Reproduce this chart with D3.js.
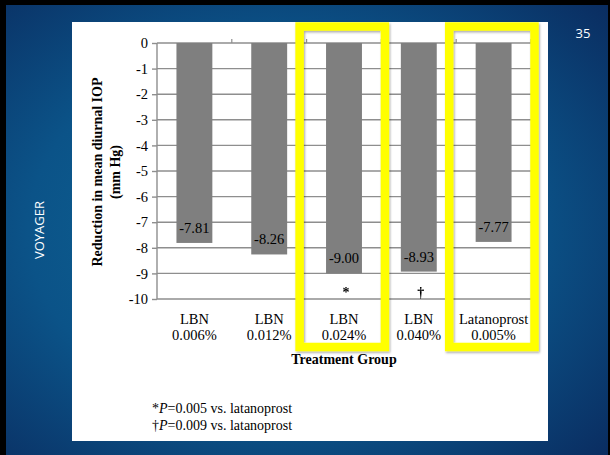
<!DOCTYPE html>
<html>
<head>
<meta charset="utf-8">
<script src="https://cdn.jsdelivr.net/npm/d3@7"></script>
<style>
  html, body { margin: 0; padding: 0; background: #000; }
  svg { display: block; }
</style>
</head>
<body>
<svg id="chart" width="610" height="455"></svg>
<script>
// ---- data ----
const categories = ["LBN 0.006%", "LBN 0.012%", "LBN 0.024%", "LBN 0.040%", "Latanoprost 0.005%"];
const catLine1 = ["LBN", "LBN", "LBN", "LBN", "Latanoprost"];
const catLine2 = ["0.006%", "0.012%", "0.024%", "0.040%", "0.005%"];
const values = [-7.81, -8.26, -9.00, -8.93, -7.77];
const valueLabels = ["-7.81", "-8.26", "-9.00", "-8.93", "-7.77"];
const sigMarks = ["", "", "*", "\u2020", ""];
const highlighted = ["LBN 0.024%", "Latanoprost 0.005%"];
const yTicks = [0, -1, -2, -3, -4, -5, -6, -7, -8, -9, -10];
const footnotes = [
  { sym: "*", p: "P", rest: "=0.005 vs. latanoprost" },
  { sym: "\u2020", p: "P", rest: "=0.009 vs. latanoprost" }
];

const svg = d3.select("#chart");
const serif = "'Liberation Serif', 'Times New Roman', serif";
const sans = "'Open Sans', 'Noto Sans', sans-serif";

// ---- background ----
const defs = svg.append("defs");
const rg = defs.append("radialGradient").attr("id", "bg")
  .attr("cx", "45%").attr("cy", "50%").attr("r", "75%");
rg.append("stop").attr("offset", "0%").attr("stop-color", "#0f6a98");
rg.append("stop").attr("offset", "55%").attr("stop-color", "#0b5388");
rg.append("stop").attr("offset", "100%").attr("stop-color", "#0a2c60");
const sh = defs.append("filter").attr("id", "shadow").attr("x", "-10%").attr("y", "-10%").attr("width", "120%").attr("height", "120%");
sh.append("feDropShadow").attr("dx", 1).attr("dy", 1.5).attr("stdDeviation", 1.2).attr("flood-color", "#000").attr("flood-opacity", 0.35);

svg.append("rect").attr("width", 610).attr("height", 455).attr("fill", "#000");
svg.append("rect").attr("x", 6).attr("y", 5).attr("width", 602).attr("height", 450).attr("fill", "url(#bg)");

// slide number and side title
svg.append("text").attr("x", 583).attr("y", 38).attr("text-anchor", "middle")
  .attr("font-family", sans).attr("font-size", 13).attr("fill", "#fff").text("35");
svg.append("text").attr("transform", "translate(44,230) rotate(-90)").attr("text-anchor", "middle")
  .attr("font-family", sans).attr("font-size", 13).attr("fill", "#fff").text("VOYAGER");

// white panel
svg.append("rect").attr("x", 72).attr("y", 22).attr("width", 476).attr("height", 419).attr("fill", "#fff");

// ---- scales ----
const x = d3.scaleBand().domain(categories).range([157, 531]).paddingInner(0.52).paddingOuter(0.26);
const y = d3.scaleLinear().domain([-10, 0]).range([299, 43]);
const gridColor = "#8e8e8e";

// gridlines
svg.append("g").selectAll("line").data(yTicks).join("line")
  .attr("x1", x.range()[0]).attr("x2", x.range()[1])
  .attr("y1", d => y(d)).attr("y2", d => y(d))
  .attr("stroke", gridColor).attr("stroke-width", 1.4);

// top boundary ticks
const bounds = d3.range(categories.length + 1).map(i => x.range()[0] + i * x.step());
svg.append("g").selectAll("line").data(bounds.slice(1)).join("line")
  .attr("x1", d => d).attr("x2", d => d)
  .attr("y1", y(0)).attr("y2", y(0) - 4)
  .attr("stroke", gridColor).attr("stroke-width", 1.2);

// bars
svg.append("g").selectAll("rect").data(values).join("rect")
  .attr("x", (d, i) => x(categories[i]))
  .attr("width", x.bandwidth())
  .attr("y", y(0))
  .attr("height", d => y(d) - y(0))
  .attr("fill", "#7f7f7f");

// y axis
const yAxis = svg.append("g").attr("transform", `translate(${x.range()[0]},0)`)
  .call(d3.axisLeft(y).tickValues(yTicks).tickSize(5).tickPadding(4).tickFormat(d => String(d)));
yAxis.select(".domain").attr("stroke", gridColor).attr("stroke-width", 1.4).attr("d", `M0,${y(0)}V${y(-10)}`);
yAxis.selectAll(".tick line").attr("stroke", gridColor).attr("stroke-width", 1.4);
yAxis.selectAll(".tick text").attr("font-family", serif).attr("font-size", 14.5).attr("fill", "#000");

// value labels
svg.append("g").selectAll("text").data(values).join("text")
  .attr("x", (d, i) => x(categories[i]) + x.bandwidth() / 2)
  .attr("y", d => y(d) - 10)
  .attr("text-anchor", "middle")
  .attr("font-family", serif).attr("font-size", 14.5).attr("fill", "#000")
  .text((d, i) => valueLabels[i]);

// significance marks
svg.append("g").attr("opacity", 0.999).selectAll("text").data(sigMarks).join("text")
  .attr("x", (d, i) => x(categories[i]) + x.bandwidth() / 2 + 2)
  .attr("y", y(-10) - 2)
  .attr("text-anchor", "middle")
  .attr("font-family", serif).attr("font-weight", "bold").attr("font-size", 14).attr("fill", "#000")
  .text(d => d);

// category labels
const cl = svg.append("g").selectAll("text").data(categories).join("text")
  .attr("text-anchor", "middle")
  .attr("font-family", serif).attr("font-size", 14.5).attr("fill", "#000");
cl.append("tspan").attr("x", d => x(d) + x.bandwidth() / 2).attr("y", 324).text((d, i) => catLine1[i]);
cl.append("tspan").attr("x", d => x(d) + x.bandwidth() / 2).attr("y", 340).text((d, i) => catLine2[i]);

// axis titles
svg.append("text").attr("x", 344).attr("y", 364).attr("text-anchor", "middle")
  .attr("font-family", serif).attr("font-weight", "bold").attr("font-size", 14).attr("fill", "#000")
  .text("Treatment Group");
const yt = svg.append("text").attr("transform", "translate(0,172) rotate(-90)").attr("text-anchor", "middle")
  .attr("font-family", serif).attr("font-weight", "bold").attr("font-size", 14).attr("fill", "#000");
yt.append("tspan").attr("x", 0).attr("y", 102).text("Reduction in mean diurnal IOP");
yt.append("tspan").attr("x", 0).attr("y", 120).text("(mm Hg)");

// highlight boxes
svg.append("g").selectAll("rect").data(highlighted).join("rect")
  .attr("x", d => x(d) - x.step() * 0.26 - 7)
  .attr("y", 26.5)
  .attr("width", d => x.step() + 10.5)
  .attr("height", 320.5)
  .attr("fill", "none")
  .attr("stroke", "#ffff00")
  .attr("stroke-width", 8.5)
  .attr("filter", "url(#shadow)");

// footnotes
const fn = svg.append("g").selectAll("text").data(footnotes).join("text")
  .attr("x", 152).attr("y", (d, i) => 413 + i * 17)
  .attr("font-family", serif).attr("font-size", 14).attr("fill", "#000");
fn.append("tspan").text(d => d.sym);
fn.append("tspan").attr("font-style", "italic").text(d => d.p);
fn.append("tspan").text(d => d.rest);
</script>
</body>
</html>
